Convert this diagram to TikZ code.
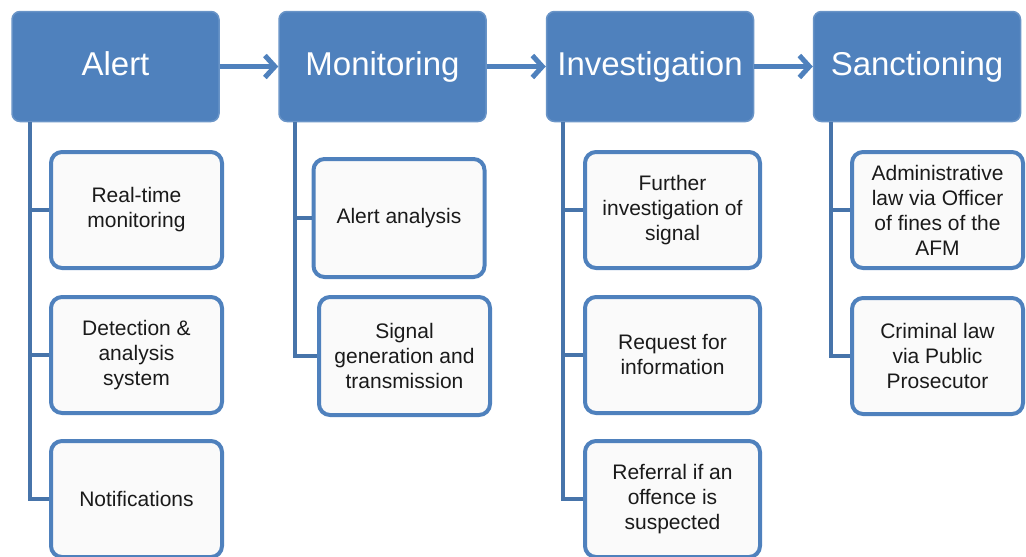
\documentclass[tikz,border=0pt]{standalone}
\usepackage{fontspec}
\setmainfont{Liberation Sans}
\usetikzlibrary{arrows.meta}

\definecolor{stageblue}{HTML}{4F81BD}
\definecolor{boxfill}{HTML}{FAFAFA}
\definecolor{labelgray}{HTML}{1A1A1A}

\begin{document}
\begin{tikzpicture}[
            x=1pt, y=-1pt,
            stage/.style = {
                rectangle,
                rounded corners=8pt,
                draw=stageblue!85!white,
                line width=1.5pt,
                fill=stageblue,
                minimum width=207pt,
                minimum height=110pt,
                inner sep=0pt,
                text height=24pt,
                text depth=7pt,
                text=white,
                font=\fontsize{33}{36}\selectfont
            },
            task/.style = {
                rectangle,
                rounded corners=11pt,
                draw=stageblue,
                line width=4pt,
                fill=boxfill,
                minimum width=171pt,
                minimum height=116pt,
                inner sep=0pt,
                align=center,
                text=labelgray,
                font=\fontsize{21}{25}\selectfont
            },
            branch/.style = {draw=stageblue!90!black, line width=4pt},
            flow/.style = {draw=stageblue, line width=5pt,
                -{Straight Barb[length=10pt,width=22pt]}}
        ]
            \useasboundingbox (0,0) rectangle (1026,557);

            % the four stages
            \node[stage] (alert)         at (115.5,66.5) {Alert};
            \node[stage] (monitoring)    at (382.5,66.5) {Monitoring};
            \node[stage] (investigation) at (650,66.5)   {Investigation};
            \node[stage] (sanctioning)   at (917,66.5)   {Sanctioning};

            \draw[flow] (alert.east) -- (monitoring.west);
            \draw[flow] (monitoring.east) -- (investigation.west);
            \draw[flow] (investigation.east) -- (sanctioning.west);

            % tasks under each stage
            \node[task] (realtime)      at (136.5,210) {Real-time\\monitoring};
            \node[task] (detection)     at (136.5,355) {Detection \&\\analysis\\system};
            \node[task] (notifications) at (136.5,499) {Notifications};

            \node[task, minimum height=118pt] (alertanalysis) at (399,218)   {Alert analysis};
            \node[task, minimum height=118pt] (signalgen)     at (404.5,356) {Signal\\generation and\\transmission};

            \node[task, minimum width=175pt] (furtherinv) at (672.5,210) {Further\\investigation of\\signal};
            \node[task, minimum width=175pt] (request)    at (672.5,355) {Request for\\information};
            \node[task, minimum width=175pt] (referral)   at (672.5,499) {Referral if an\\offence is\\suspected};

            \node[task] (adminlaw)    at (937.5,210) {Administrative\\law via Officer\\of fines of the\\AFM};
            \node[task] (criminallaw) at (937.5,356) {Criminal law\\via Public\\Prosecutor};

            \draw[branch] ([xshift=19pt]alert.south west) |- (realtime.west);
            \draw[branch] ([xshift=19pt]alert.south west) |- (detection.west);
            \draw[branch] ([xshift=19pt]alert.south west) |- (notifications.west);

            \draw[branch] ([xshift=17pt]monitoring.south west) |- (alertanalysis.west);
            \draw[branch] ([xshift=17pt]monitoring.south west) |- (signalgen.west);

            \draw[branch] ([xshift=17pt]investigation.south west) |- (furtherinv.west);
            \draw[branch] ([xshift=17pt]investigation.south west) |- (request.west);
            \draw[branch] ([xshift=17pt]investigation.south west) |- (referral.west);

            \draw[branch] ([xshift=18pt]sanctioning.south west) |- (adminlaw.west);
            \draw[branch] ([xshift=18pt]sanctioning.south west) |- (criminallaw.west);

        \end{tikzpicture}
\end{document}
